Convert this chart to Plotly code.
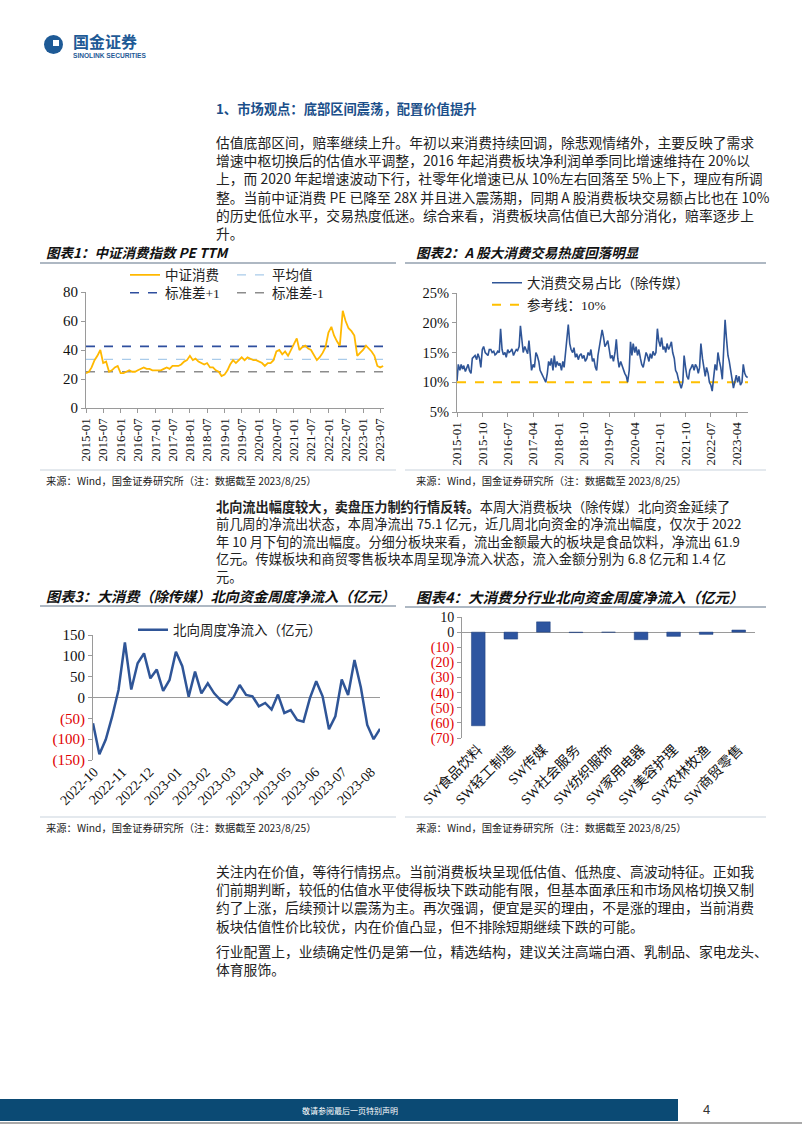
import plotly.graph_objects as go
import pandas as pd

W, H = 802, 1133
def X(p): return p / W
def Y(p): return 1 - p / H

# ---------------- data ----------------
pe_values = [24, 25, 28, 33, 36, 40, 31, 32, 25, 26, 28, 29,
             24, 24, 25, 26, 25, 25, 26, 27, 28, 27, 27, 26,
             26, 26, 26, 27, 28, 27, 29, 29, 29, 30, 32, 33,
             36, 33, 34, 32, 31, 30, 31, 28, 28, 26, 25, 22,
             23, 26, 30, 33, 31, 33, 35, 33, 35, 34, 33, 33,
             32, 31, 29, 31, 31, 33, 39, 40, 37, 39, 36, 40,
             44, 48, 40, 42, 43, 41, 40, 36, 33, 35, 38, 42,
             52, 56, 50, 46, 43, 67, 60, 55, 53, 50, 36, 38,
             40, 43, 41, 39, 36, 29, 28, 29]
pe_dates = pd.date_range("2015-01-01", periods=len(pe_values), freq="MS")
pe_span = ["2015-01-01", "2023-08-10"]
pe_mean = 33.6
pe_plus1 = 42.5
pe_minus1 = 25.0

turnover_values = [
    10.2, 13.0, 12.0, 13.0, 12.2, 12.8, 11.8, 12.5, 13.0, 12.0, 11.5, 14.0,
    14.2, 14.5, 13.8, 14.8, 14.0, 12.5, 15.5, 16.0, 15.0, 14.8, 14.5, 15.5,
    15.5, 15.0, 15.2, 14.6, 14.8, 15.2, 15.0, 19.0, 15.5, 14.6, 15.0, 14.2,
    15.5, 15.0, 15.2, 15.6, 14.5, 15.0, 15.5, 15.3, 16.0, 19.5, 17.5, 15.0,
    16.0, 15.5, 14.8, 17.0, 14.0, 12.0, 13.0, 12.5, 15.0, 14.5, 13.5, 12.0,
    11.5, 11.0, 10.5, 10.0, 11.5, 13.5, 12.8, 14.0, 12.0, 14.5, 12.5, 13.5,
    12.8, 13.2, 12.0, 13.5, 12.5, 15.0, 17.0, 19.7, 16.5, 15.5, 15.0, 15.8,
    14.2, 14.8, 13.8, 14.5, 14.8, 14.0, 14.5, 13.5, 14.0, 15.0, 14.5, 15.5,
    13.5, 14.0, 12.5, 12.0, 14.5, 16.0, 17.0, 18.8, 17.5, 16.0, 16.5, 17.0,
    15.5, 14.0, 14.5, 13.5, 15.0, 17.2, 14.0, 12.5, 13.5, 12.8, 12.0, 11.5,
    11.0, 10.0, 12.0, 16.8, 14.5, 16.5, 15.0, 16.0, 14.5, 15.5, 14.0, 13.0,
    12.5, 14.0, 15.0, 14.5, 13.5, 14.8, 14.0, 15.2, 14.5, 15.0, 19.0, 17.0,
    16.0, 17.5, 15.5, 16.0, 15.0, 16.5, 15.5, 16.0, 16.8, 15.0, 14.0, 12.0,
    11.5, 10.5, 9.5, 9.0, 10.0, 14.5, 12.5, 11.0, 10.5, 12.0, 12.5, 13.0,
    12.0, 13.0, 12.5, 11.5, 12.5, 16.5, 14.0, 12.5, 11.0, 12.5, 11.5, 10.0,
    9.5, 8.5, 11.0, 13.0, 12.0, 15.0, 13.5, 12.5, 10.5, 16.0, 20.5, 17.5,
    14.5, 13.5, 11.5, 10.5, 9.0, 10.0, 11.2, 10.0, 11.0, 9.5, 10.0, 13.0,
    11.5, 11.0, 10.8]
turnover_dates = pd.date_range("2015-01-01", periods=len(turnover_values), freq="SMS")
turnover_span = ["2015-01-01", "2023-08-05"]
ref_level = 10

flow_values = [-62, -136, -101, -46, 18, 132, 19, 82, 106, 46, 67, 16, 42, 110,
               75, 2, 62, 10, 34, 10, -6, -17, 0, 30, 6, 3, -21, -13, -29, 7,
               -37, -30, -54, -58, -2, 39, 3, -76, -45, 43, 6, 90, 24, -66,
               -100, -75.1]
flow_dates = pd.date_range("2022-09-30", periods=len(flow_values), freq="7D")

industries = ["SW食品饮料", "SW轻工制造", "SW传媒", "SW社会服务", "SW纺织服饰",
              "SW家用电器", "SW美容护理", "SW农林牧渔", "SW商贸零售"]
industry_flow = [-61.9, -4.6, 6.8, -0.3, -0.1, -5.0, -2.8, -1.5, 1.4]

flow_ticks = [-150, -100, -50, 0, 50, 100, 150]
ind_ticks = [-70, -60, -50, -40, -30, -20, -10, 0, 10]

# ---------------- styles ----------------
SERIF = "Liberation Serif, Noto Sans CJK SC"
CJK = "Noto Sans CJK SC"
AX = "#9A9A9A"
BLUE = "#2F5597"
RED = "#E00000"

def acc_label(v):
    if v < 0:
        return "<span style='color:%s'>(%d)</span>" % (RED, -v)
    return "%d" % v

fig = go.Figure()

# chart 1
fig.add_trace(go.Scatter(x=pe_span, y=[pe_mean, pe_mean], mode="lines", name="平均值",
                         line=dict(color="#A9CBEA", width=1.3, dash="dash"),
                         xaxis="x", yaxis="y", legend="legend", legendrank=2))
fig.add_trace(go.Scatter(x=pe_span, y=[pe_plus1, pe_plus1], mode="lines", name="标准差+1",
                         line=dict(color="#2E4E9E", width=1.6, dash="dash"),
                         xaxis="x", yaxis="y", legend="legend2", legendrank=1))
fig.add_trace(go.Scatter(x=pe_span, y=[pe_minus1, pe_minus1], mode="lines", name="标准差-1",
                         line=dict(color="#8C8C8C", width=1.4, dash="dash"),
                         xaxis="x", yaxis="y", legend="legend2", legendrank=2))
fig.add_trace(go.Scatter(x=pe_dates, y=pe_values, mode="lines", name="中证消费",
                         line=dict(color="#FFB800", width=1.8),
                         xaxis="x", yaxis="y", legend="legend", legendrank=1))

# chart 2
fig.add_trace(go.Scatter(x=turnover_span, y=[ref_level, ref_level], mode="lines",
                         name="参考线：10%", line=dict(color="#FFC000", width=2, dash="dash"),
                         xaxis="x2", yaxis="y2", legend="legend4"))
fig.add_trace(go.Scatter(x=turnover_dates, y=turnover_values, mode="lines",
                         name="大消费交易占比（除传媒）", line=dict(color=BLUE, width=1.6),
                         xaxis="x2", yaxis="y2", legend="legend3"))

# chart 3
fig.add_trace(go.Scatter(x=flow_dates, y=flow_values, mode="lines",
                         name="北向周度净流入（亿元）", line=dict(color=BLUE, width=2.5),
                         xaxis="x3", yaxis="y3", legend="legend5"))

# chart 4
fig.add_trace(go.Bar(x=industries, y=industry_flow,
                     marker=dict(color="#2E55A0", line=dict(color="#1F3F7A", width=0.5)),
                     width=0.42, xaxis="x4", yaxis="y4", showlegend=False))

axis_common = dict(showline=True, linecolor=AX, linewidth=1, ticks="outside", ticklen=4,
                   tickcolor=AX, showgrid=False, zeroline=False)

legend_common = dict(orientation="h", xanchor="left", yanchor="middle",
                     bgcolor="rgba(0,0,0,0)", borderwidth=0, itemwidth=30,
                     font=dict(family=SERIF, size=13.5, color="#222"))

fig.update_layout(
    width=W, height=H, margin=dict(l=0, r=0, t=0, b=0, autoexpand=False),
    paper_bgcolor="white", plot_bgcolor="white",
    xaxis=dict(domain=[X(86), X(384)], anchor="y", type="date", range=pe_span,
               tick0="2015-01-01", dtick="M6", tickformat="%Y-%m", tickangle=-90,
               tickfont=dict(family=SERIF, size=13, color="#111"), **axis_common),
    yaxis=dict(domain=[Y(408), Y(292)], anchor="x", range=[0, 80], dtick=20,
               tickfont=dict(family=SERIF, size=15, color="#111"), **axis_common),
    xaxis2=dict(domain=[X(457), X(748)], anchor="y2", type="date", range=turnover_span,
                tick0="2015-01-01", dtick="M9", tickformat="%Y-%m", tickangle=-90,
                tickfont=dict(family=SERIF, size=13, color="#111"), **axis_common),
    yaxis2=dict(domain=[Y(412), Y(293)], anchor="x2", range=[5, 25], dtick=5, ticksuffix="%",
                tickfont=dict(family=SERIF, size=14.5, color="#111"), **axis_common),
    xaxis3=dict(domain=[X(93), X(380)], anchor="y3", type="date",
                range=[flow_dates[0], flow_dates[-1]], tick0="2022-10-01", dtick="M1",
                tickformat="%Y-%m", tickangle=-45, showline=False, ticks="", showgrid=False,
                zeroline=False, tickfont=dict(family=SERIF, size=14, color="#111")),
    yaxis3=dict(domain=[Y(760), Y(635)], anchor="x3", range=[-150, 150], tickvals=flow_ticks,
                ticktext=[acc_label(v) for v in flow_ticks],
                showline=True, linecolor=AX, ticks="outside", ticklen=4, tickcolor=AX,
                showgrid=False, zeroline=True, zerolinecolor=AX, zerolinewidth=1,
                tickfont=dict(family=SERIF, size=15, color="#111")),
    xaxis4=dict(domain=[X(462), X(755)], anchor="y4", type="category", tickangle=-45,
                showline=False, ticks="", showgrid=False, zeroline=False,
                tickfont=dict(family=SERIF, size=14, color="#111")),
    yaxis4=dict(domain=[Y(738), Y(617)], anchor="x4", range=[-70, 10], tickvals=ind_ticks,
                ticktext=[acc_label(v) for v in ind_ticks],
                showline=True, linecolor=AX, ticks="outside", ticklen=4, tickcolor=AX,
                showgrid=False, zeroline=True, zerolinecolor=AX, zerolinewidth=1,
                tickfont=dict(family=SERIF, size=14, color="#111")),
    legend=dict(x=X(125), y=Y(275), entrywidth=62, **legend_common),
    legend2=dict(x=X(125), y=Y(293), entrywidth=62, **legend_common),
    legend3=dict(x=X(487), y=Y(283), **legend_common),
    legend4=dict(x=X(487), y=Y(305), **legend_common),
    legend5=dict(x=X(133), y=Y(630), **legend_common),
    showlegend=True,
)

shapes = []
annots = []

def line(x0, y0, x1, y1, color, width):
    shapes.append(dict(type="line", xref="paper", yref="paper", x0=X(x0), y0=Y(y0),
                       x1=X(x1), y1=Y(y1), line=dict(color=color, width=width)))

def text(x, y, s, size=13.8, color="#222", family=CJK, anchor="left"):
    annots.append(dict(x=X(x), y=Y(y), xref="paper", yref="paper", text=s, showarrow=False,
                       xanchor=anchor, yanchor="middle", font=dict(family=family, size=size, color=color)))

# logo
shapes.append(dict(type="circle", xref="paper", yref="paper", x0=X(44), y0=Y(35), x1=X(63), y1=Y(54),
                   fillcolor="#1E5A96", line=dict(width=0)))
shapes.append(dict(type="rect", xref="paper", yref="paper", x0=X(53), y0=Y(40), x1=X(59), y1=Y(46),
                   fillcolor="white", line=dict(width=0)))
text(71, 41, "<b>国金证券</b>", size=16, color="#1E5A96")
text(71, 56, "<b>SINOLINK SECURITIES</b>", size=6.6, color="#1E5A96", family="Liberation Sans")

# section title
text(214, 109, "<b>1、市场观点：底部区间震荡，配置价值提升</b>", size=13.3, color="#1B4F8A")

para1 = ["估值底部区间，赔率继续上升。年初以来消费持续回调，除悲观情绪外，主要反映了需求",
         "增速中枢切换后的估值水平调整，2016 年起消费板块净利润单季同比增速维持在 20%以",
         "上，而 2020 年起增速波动下行，社零年化增速已从 10%左右回落至 5%上下，理应有所调",
         "整。当前中证消费 PE 已降至 28X 并且进入震荡期，同期 A 股消费板块交易额占比也在 10%",
         "的历史低位水平，交易热度低迷。综合来看，消费板块高估值已大部分消化，赔率逐步上",
         "升。"]
for i, s in enumerate(para1):
    text(214, 142 + i * 18.2, s)

# chart titles and rules
text(44, 252, "<b><i>图表1：中证消费指数 PE TTM</i></b>", size=13.5, color="#111")
text(414, 252, "<b><i>图表2：A 股大消费交易热度回落明显</i></b>", size=13.5, color="#111")
line(40, 263, 396, 263, "#AEB8C3", 2)
line(405, 263, 766, 263, "#AEB8C3", 2)
line(40, 470, 396, 470, "#C9D3DD", 1)
line(405, 470, 766, 470, "#C9D3DD", 1)
src = "来源：Wind，国金证券研究所（注：数据截至 2023/8/25）"
text(44, 481, src, size=10.3, color="#222")
text(414, 481, src, size=10.3, color="#222")

para2 = ["<b>北向流出幅度较大，卖盘压力制约行情反转。</b>本周大消费板块（除传媒）北向资金延续了",
         "前几周的净流出状态，本周净流出 75.1 亿元，近几周北向资金的净流出幅度，仅次于 2022",
         "年 10 月下旬的流出幅度。分细分板块来看，流出金额最大的板块是食品饮料，净流出 61.9",
         "亿元。传媒板块和商贸零售板块本周呈现净流入状态，流入金额分别为 6.8 亿元和 1.4 亿",
         "元。"]
for i, s in enumerate(para2):
    text(214, 506 + i * 17.6, s, size=13.2)

text(44, 596, "<b><i>图表3：大消费（除传媒）北向资金周度净流入（亿元）</i></b>", size=14.2, color="#111")
text(414, 596, "<b><i>图表4：大消费分行业北向资金周度净流入（亿元）</i></b>", size=14.5, color="#111")
line(40, 606, 396, 606, "#AEB8C3", 2)
line(405, 607, 766, 607, "#AEB8C3", 2)
line(40, 817, 396, 817, "#C9D3DD", 1)
line(405, 817, 766, 817, "#C9D3DD", 1)
text(44, 827, src, size=10.3, color="#222")
text(414, 827, src, size=10.3, color="#222")

para3 = ["关注内在价值，等待行情拐点。当前消费板块呈现低估值、低热度、高波动特征。正如我",
         "们前期判断，较低的估值水平使得板块下跌动能有限，但基本面承压和市场风格切换又制",
         "约了上涨，后续预计以震荡为主。再次强调，便宜是买的理由，不是涨的理由，当前消费",
         "板块估值性价比较优，内在价值凸显，但不排除短期继续下跌的可能。"]
for i, s in enumerate(para3):
    text(214, 871 + i * 18.2, s)
text(214, 951, "行业配置上，业绩确定性仍是第一位，精选结构，建议关注高端白酒、乳制品、家电龙头、")
text(214, 969, "体育服饰。")

# footer
shapes.append(dict(type="rect", xref="paper", yref="paper", x0=X(0), y0=Y(1121), x1=X(678), y1=Y(1099),
                   fillcolor="#0B4A74", line=dict(width=0)))
line(0, 1123, 802, 1123, "#8C8C8C", 1.5)
text(350, 1110, "敬请参阅最后一页特别声明", size=8, color="white", anchor="center")
text(706, 1109, "4", size=13, color="#333", family="Liberation Sans", anchor="center")

fig.update_layout(shapes=shapes, annotations=annots)
fig.write_html("out.html")
